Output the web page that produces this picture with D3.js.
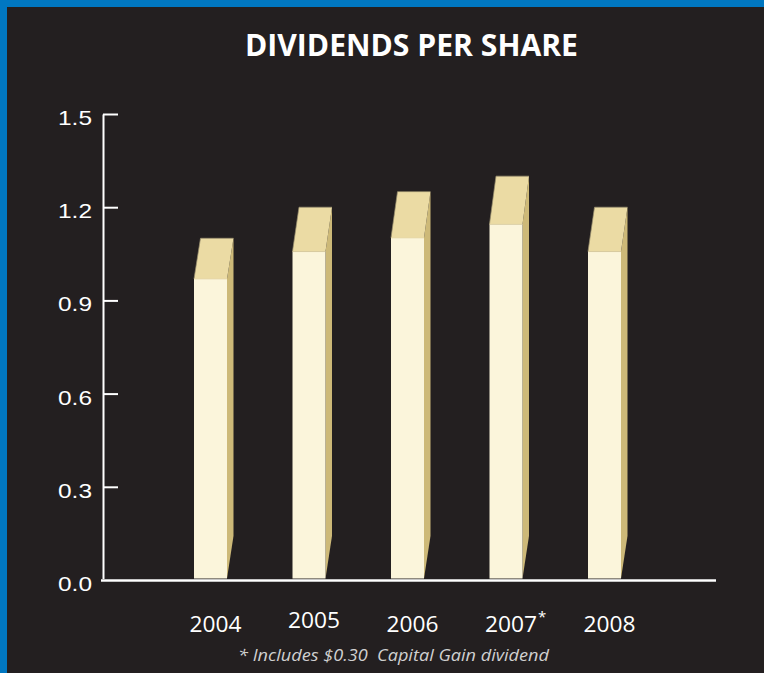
<!DOCTYPE html>
<html><head><meta charset="utf-8">
<script src="https://cdn.jsdelivr.net/npm/d3@7"></script>
<style>html,body{margin:0;padding:0;background:#231f20;overflow:hidden}</style>
</head><body>
<svg id="c" width="764" height="673"></svg>
<script>
const years = ["2004", "2005", "2006", "2007", "2008"];
const yearMarks = ["", "", "", "*", ""];
const dividends = [1.10, 1.20, 1.25, 1.30, 1.20];
const yTicks = [0, 0.3, 0.6, 0.9, 1.2, 1.5];
const title = "DIVIDENDS PER SHARE";
const footnote = "* Includes $0.30  Capital Gain dividend";

const svg = d3.select("#c");
svg.append("rect").attr("width", 764).attr("height", 673).attr("fill", "#0077c1");
svg.append("rect").attr("x", 7).attr("y", 7).attr("width", 757).attr("height", 666).attr("fill", "#231f20");

svg.append("text").attr("x", 411.5).attr("y", 56).attr("text-anchor", "middle")
  .attr("font-family", "'Open Sans', sans-serif").attr("font-weight", 700).attr("font-size", 29.5)
  .attr("fill", "#fff").attr("textLength", 333).attr("lengthAdjust", "spacingAndGlyphs").text(title);

const y0 = 580;
const y = d3.scaleLinear().domain([0, 1.5]).range([y0, 114]);
const x = d3.scaleBand().domain(years).range([144.75, 670.25]).paddingInner(0.665).paddingOuter(0.5);
const dx = 6.5, frontRatio = 0.881, sideBottom = 44;

const g = svg.append("g");
const bars = g.selectAll("g.bar").data(years.map((yr, i) => ({yr, v: dividends[i]}))).join("g");
bars.each(function(d) {
  const s = d3.select(this);
  const L = x(d.yr), R = L + x.bandwidth();
  const back = y(d.v);
  const front = y0 - (y0 - back) * frontRatio;
  s.append("path").attr("d", `M${R},${front}L${R+dx},${back}L${R+dx},${y0-sideBottom}L${R},${y0-1.5}Z`)
    .attr("fill", "#cdb978");
  s.append("rect").attr("x", L).attr("y", front).attr("width", R - L).attr("height", y0 - 1.5 - front)
    .attr("fill", "#fbf5db");
  s.append("path").attr("d", `M${L},${front}L${L+dx},${back}L${R+dx},${back}L${R},${front}Z`)
    .attr("fill", "#ebdba4");
  s.append("path").attr("d", `M${L},${front}L${L+dx},${back}L${R+dx},${back}`)
    .attr("fill", "none").attr("stroke", "#9a8f6e").attr("stroke-width", 0.7);
  s.append("line").attr("x1", L).attr("x2", R).attr("y1", front).attr("y2", front)
    .attr("stroke", "#e4d6a8").attr("stroke-width", 0.8);
});

const ya = svg.append("g").attr("transform", "translate(103,0)")
  .call(d3.axisLeft(y).tickValues(yTicks).tickSize(-15).tickSizeOuter(0).tickPadding(11).tickFormat(d3.format(".1f")));
ya.select(".domain").attr("stroke", "#fff").attr("stroke-width", 2);
ya.selectAll(".tick line").attr("stroke", "#fff").attr("stroke-width", 2);
ya.selectAll(".tick text").attr("fill", "#fff").attr("font-family", "'Liberation Sans', Arial, sans-serif")
  .attr("font-size", 21).attr("dy", "0.5em").attr("textLength", 34).attr("lengthAdjust", "spacingAndGlyphs");

svg.append("line").attr("x1", 101).attr("x2", 716).attr("y1", y(0) + 0.5).attr("y2", y(0) + 0.5)
  .attr("stroke", "#888").attr("stroke-width", 3.2);
svg.append("line").attr("x1", 101).attr("x2", 716).attr("y1", y(0) + 0.5).attr("y2", y(0) + 0.5)
  .attr("stroke", "#fff").attr("stroke-width", 2);

const lab = svg.append("g");
years.forEach((yr, i) => {
  const cx = x(yr) + x.bandwidth() / 2 + 5;
  const by = i === 1 ? 628 : 632;
  lab.append("text").attr("x", cx).attr("y", by).attr("text-anchor", "middle")
    .attr("font-family", "'Open Sans', sans-serif").attr("font-size", 22).attr("fill", "#fff")
    .attr("textLength", 52).attr("lengthAdjust", "spacingAndGlyphs").text(yr);
  if (yearMarks[i]) {
    lab.append("text").attr("x", cx + 27).attr("y", by - 10).attr("font-family", "'Open Sans', sans-serif")
      .attr("font-size", 15).attr("fill", "#fff").text(yearMarks[i]);
  }
});

svg.append("text").attr("x", 393.5).attr("y", 661).attr("text-anchor", "middle")
  .attr("font-family", "'Open Sans', sans-serif").attr("font-style", "italic").attr("font-size", 16.5)
  .attr("fill", "#d0d0d0").attr("textLength", 311).attr("lengthAdjust", "spacingAndGlyphs")
  .attr("xml:space", "preserve").style("white-space", "pre").text(footnote);
</script>
</body></html>
